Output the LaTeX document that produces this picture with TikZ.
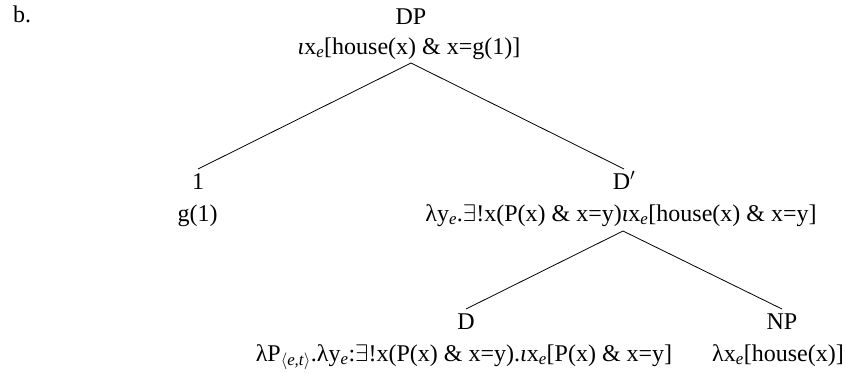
\RequirePackage{fix-cm}
\documentclass[tikz,border=0pt]{standalone}
\usepackage{fontspec}
\setmainfont{Liberation Serif}
\newcommand{\se}{\textsubscript{\textit{e}}}
\newcommand{\iot}{\textit{ι}}
\tikzset{
  every node/.style={font=\fontsize{24}{30}\selectfont, inner sep=0pt, outer sep=0pt},
  cat/.style={anchor=base, text height=20pt},
  sem/.style={anchor=base},
  branch/.style={line width=0.8pt}
}
\begin{document}
\begin{tikzpicture}[x=1pt,y=-1pt]
\useasboundingbox (0,0) rectangle (846,373);
\node[anchor=base west] (lab) at (13,22) {b.};
\node[cat] (DP) at (411,24) {DP};
\node[sem] (DPsem) at (409,54) {\iot x\se[house(x) \& x=g(1)]};
\coordinate (DPapex) at (411,63);
\node[cat] (one) at (198,189) {1};
\node[sem] (onesem) at (197.5,221) {g(1)};
\node[cat] (Dbar) at (624,189) {D$'$};
\node[sem] (Dbarsem) at (621,221) {λy\se.$\exists$!x(P(x) \& x=y)\iot x\se[house(x) \& x=y]};
\coordinate (Dbarapex) at (623,231);
\node[cat] (D) at (466,329) {D};
\node[sem] (Dsem) at (464,361) {λP\textsubscript{$\langle$\textit{e,t}$\rangle$}.λy\se:$\exists$!x(P(x) \& x=y).\iot x\se[P(x) \& x=y]};
\node[cat] (NP) at (782,329) {NP};
\node[sem] (NPsem) at (778,361) {λx\se[house(x)]};
\draw[branch] (DPapex) -- (one.north);
\draw[branch] (DPapex) -- (Dbar.north);
\draw[branch] (Dbarapex) -- (D.north);
\draw[branch] (Dbarapex) -- (NP.north);
\end{tikzpicture}
\end{document}
